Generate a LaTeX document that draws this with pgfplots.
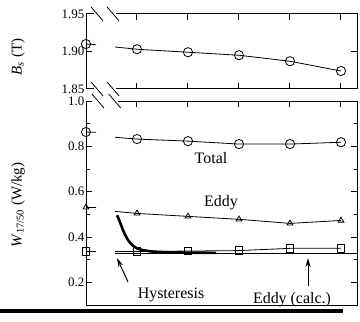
\documentclass[border=0pt]{standalone}
\usepackage{pgfplots}
\pgfplotsset{compat=1.18}
\usepackage{fontspec}
\setmainfont{Liberation Serif}
\usetikzlibrary{arrows.meta}
\tikzset{thn/.style={black, line width=0.8bp}, brk/.style={black, line width=0.8bp}}
\begin{document}
\begin{tikzpicture}[x=1bp,y=1bp]
\path[use as bounding box] (0,0) rectangle (360,322);
\pgfplotsset{
 myax/.style={scale only axis, width=271bp, xmin=0, xmax=5.314,
   xtick={1,2,3,4,5}, xticklabels={}, tick align=inside,
   major tick length=6bp, minor tick length=3.5bp,
   axis line style={line width=1bp},
   every tick/.style={black, line width=1bp},
   tick label style={font=\fontsize{13}{14}\selectfont, inner sep=1.5bp},
   /pgf/number format/assume math mode=true, clip=false},
}
% ---------- upper panel ----------
\begin{axis}[myax, at={(86bp,233bp)}, anchor=south west, height=75bp,
  ymin=1.85, ymax=1.95, ytick={1.85,1.90,1.95},
  yticklabel style={/pgf/number format/.cd, fixed, fixed zerofill, precision=2}]
\addplot[thn] coordinates {(0,1.910)(0.2,1.909)};
\addplot[thn] coordinates {(0.57,1.906)(1,1.903)(2,1.899)(3,1.895)(4,1.887)(5,1.874)};
\addplot[only marks, mark=o, mark size=4.6bp, mark options={fill=white, line width=0.8bp}]
  coordinates {(0,1.910)(1,1.903)(2,1.899)(3,1.895)(4,1.887)(5,1.874)};
\draw[white, line width=3bp] (rel axis cs:0.028,1) -- (rel axis cs:0.112,1);
\draw[white, line width=3bp] (rel axis cs:0.028,0) -- (rel axis cs:0.112,0);
\draw[brk] ([xshift=-6bp,yshift=7bp]rel axis cs:0.041,1) -- ([xshift=6bp,yshift=-7bp]rel axis cs:0.041,1);
\draw[brk] ([xshift=-6bp,yshift=7bp]rel axis cs:0.100,1) -- ([xshift=6bp,yshift=-7bp]rel axis cs:0.100,1);
\draw[brk] ([xshift=-6bp,yshift=7bp]rel axis cs:0.041,0) -- ([xshift=6bp,yshift=-7bp]rel axis cs:0.041,0);
\draw[brk] ([xshift=-6bp,yshift=7bp]rel axis cs:0.100,0) -- ([xshift=6bp,yshift=-7bp]rel axis cs:0.100,0);
\end{axis}
% ---------- lower panel ----------
\begin{axis}[myax, at={(86bp,17bp)}, anchor=south west, height=204bp,
  xtick pos=upper,
  ymin=0.1, ymax=1.0, ytick={0.2,0.4,0.6,0.8,1.0},
  minor ytick={0.1,0.3,0.5,0.7,0.9},
  yticklabel style={/pgf/number format/.cd, fixed, fixed zerofill, precision=1}]
% Total
\addplot[thn] coordinates {(0,0.863)(0.2,0.862)};
\addplot[thn] coordinates {(0.57,0.840)(1,0.832)(2,0.823)(3,0.810)(4,0.810)(5,0.818)};
% Eddy
\addplot[thn] coordinates {(0,0.531)(0.2,0.530)};
\addplot[thn] coordinates {(0.57,0.513)(1,0.504)(2,0.491)(3,0.478)(4,0.460)(5,0.473)};
% Hysteresis (measured)
\addplot[thn] coordinates {(0,0.336)(0.2,0.336)};
\addplot[thn] coordinates {(0.57,0.336)(1,0.336)(2,0.338)(3,0.340)(4,0.350)(5,0.350)};
% Eddy (calc.)
\addplot[thn] coordinates {(0.57,0.328)(5.314,0.328)};
% thick curve
\addplot[black, line width=2.6bp, smooth, tension=0.5] coordinates {(0.61,0.496)(0.667,0.465)(0.765,0.41)(0.863,0.375)(0.96,0.355)(1.06,0.345)(1.25,0.337)(1.55,0.333)(2.0,0.331)(2.55,0.330)};
\addplot[only marks, mark=o, mark size=4.6bp, mark options={fill=white, line width=0.8bp}]
  coordinates {(0,0.863)(1,0.832)(2,0.823)(3,0.810)(4,0.810)(5,0.818)};
\addplot[only marks, mark=triangle, mark size=3.3bp, mark options={fill=white, line width=0.8bp}]
  coordinates {(0,0.531)(1,0.504)(2,0.491)(3,0.478)(4,0.460)(5,0.473)};
\addplot[only marks, mark=square, mark size=3.8bp, mark options={fill=white, line width=0.8bp}]
  coordinates {(0,0.336)(1,0.336)(2,0.338)(3,0.340)(4,0.350)(5,0.350)};
\draw[white, line width=3bp] (rel axis cs:0.022,1) -- (rel axis cs:0.118,1);
\draw[brk] ([xshift=-6bp,yshift=7bp]rel axis cs:0.044,1) -- ([xshift=6bp,yshift=-7bp]rel axis cs:0.044,1);
\draw[brk] ([xshift=-6bp,yshift=7bp]rel axis cs:0.106,1) -- ([xshift=6bp,yshift=-7bp]rel axis cs:0.106,1);
\end{axis}
% ---------- labels ----------
\node[rotate=90, font=\fontsize{15}{17}\selectfont] at (18,265) {\textit{B}\textsubscript{\textit{s}} (T)};
\node[rotate=90, font=\fontsize{15}{17}\selectfont] at (18,117) {\textit{W}\textsubscript{17/50} (W/kg)};
\node[font=\fontsize{16}{18}\selectfont] at (211,164) {Total};
\node[font=\fontsize{16}{18}\selectfont] at (221,119) {Eddy};
\node[font=\fontsize{16}{18}\selectfont] at (171,27) {Hysteresis};
\node[font=\fontsize{16}{18}\selectfont] at (292,22) {Eddy (calc.)};
\draw[-{Stealth[length=9bp,width=5bp]}, line width=1bp] (128,40) -- (117,64);
\draw[-{Stealth[length=9bp,width=5bp]}, line width=1bp] (308,36) -- (308,64);
\draw[line width=3bp] (0,11) -- (343,11);
\end{tikzpicture}
\end{document}
